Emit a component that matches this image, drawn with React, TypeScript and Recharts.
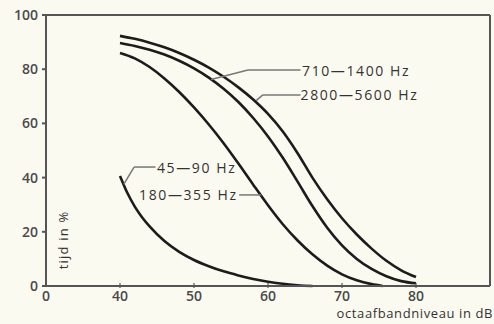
import { Line, LineChart, ReferenceDot, ReferenceLine, XAxis, YAxis } from "recharts";

const levelsWide = [40, 42, 44, 46, 48, 50, 52, 54, 56, 58, 60, 62, 64, 66, 68, 70, 72, 74, 76, 78, 80];
const hz2800 = [92.3, 91.2, 89.8, 88.1, 86.0, 83.5, 80.6, 77.2, 73.3, 68.8, 63.5, 57.0, 49.0, 40.0, 32.0, 25.0, 19.0, 13.8, 9.3, 5.8, 3.3];
const hz710 = [89.7, 88.6, 87.2, 85.4, 83.1, 80.3, 76.9, 72.8, 67.9, 62.0, 55.2, 47.3, 38.5, 29.5, 21.5, 15.0, 10.0, 6.3, 3.6, 1.8, 1.0];

const levels180 = [40, 42, 44, 46, 48, 50, 52, 54, 56, 58, 60, 62, 64, 66, 68, 70, 72, 74, 75.5];
const hz180 = [86, 84, 80.8, 76.6, 71.6, 65.9, 59.6, 52.7, 45.2, 37.4, 29.8, 22.8, 16.8, 11.7, 7.5, 4.3, 2.1, 0.7, 0];

const levels45 = [40, 41, 42, 43, 44, 46, 48, 50, 52, 54, 56, 58, 60, 62, 64, 66];
const hz45 = [40.6, 34.3, 29.3, 25.3, 22.0, 16.6, 12.6, 9.6, 7.3, 5.4, 3.9, 2.6, 1.6, 0.8, 0.3, 0];

const xTicks = [30, 40, 50, 60, 70, 80];
const yTicks = [0, 20, 40, 60, 80, 100];

// leader lines: [x, y] in data units, label anchor first
const leader710: [number, number][] = [[64.4, 79.7], [57.3, 79.7], [52.3, 76.2]];
const leader2800: [number, number][] = [[64.4, 70.5], [59.3, 70.5], [58.4, 68.4]];
const leader45: [number, number][] = [[44.8, 43.9], [41.9, 43.9], [40.5, 37.5]];
const leader180: [number, number][] = [[56.1, 33.6], [59.1, 33.6]];

const toRows = (xs: number[], ys: number[]) => xs.map((x, i) => ({ x, y: ys[i] }));

const INK = "#1c1c1c";
const AXIS = "#555";
const LEAD = "#777";
const FONT = "'Open Sans', sans-serif";

function XTick(props: any) {
  const { x, y, payload } = props;
  const v = payload.value;
  return (
    <g>
      {v !== 30 && <line x1={x} y1={y} x2={x} y2={y - 5} stroke={AXIS} strokeWidth={1.2} />}
      <text x={x} y={y + 13} textAnchor="middle" fontFamily={FONT} fontSize={14} fontWeight={600} fill="#4a4a4a">
        {v === 30 ? "0" : v}
      </text>
    </g>
  );
}

function textLabel(value: string, anchor: "start" | "end" | "middle") {
  return (p: any) => {
    const vb = p.viewBox;
    return (
      <text
        x={vb.x}
        y={vb.y}
        textAnchor={anchor}
        dominantBaseline="central"
        fontFamily={FONT}
        fontSize={14}
        letterSpacing={1.6}
        fill="#333"
      >
        {value}
      </text>
    );
  };
}

function Leader({ pts }: { pts: [number, number][] }) {
  return (
    <>
      {pts.slice(1).map((p, i) => (
        <ReferenceLine
          key={i}
          segment={[
            { x: pts[i][0], y: pts[i][1] },
            { x: p[0], y: p[1] },
          ]}
          stroke={LEAD}
          strokeWidth={1.5}
          ifOverflow="visible"
        />
      ))}
    </>
  );
}

export default function App() {
  return (
    <div style={{ position: "absolute", left: 0, top: 0, width: 494, height: 324, background: "#fbfaf1" }}>
      <LineChart width={494} height={324} margin={{ top: 15, right: 4, left: 0, bottom: 0 }}>
        <XAxis
          dataKey="x"
          type="number"
          domain={[30, 90]}
          ticks={xTicks}
          allowDuplicatedCategory={false}
          height={38}
          stroke={AXIS}
          strokeWidth={2}
          tickLine={false}
          tickSize={0}
          tick={<XTick />}
          label={(p: any) => {
            const vb = p.viewBox;
            return (
              <text
                x={vb.x + vb.width + 3}
                y={vb.y + 27}
                textAnchor="end"
                dominantBaseline="central"
                fontFamily={FONT}
                fontSize={13}
                letterSpacing={0.6}
                fill="#333"
              >
                octaafbandniveau in dB
              </text>
            );
          }}
        />
        <YAxis
          type="number"
          domain={[0, 100]}
          ticks={yTicks}
          width={46}
          stroke={AXIS}
          strokeWidth={2}
          tickSize={4}
          tickMargin={4}
          tick={{ fontFamily: FONT, fontSize: 14, fontWeight: 600, fill: "#4a4a4a" }}
        />
        <ReferenceLine y={100} stroke={AXIS} strokeWidth={2} />
        <ReferenceLine x={90} stroke={AXIS} strokeWidth={2} />

        <Line data={toRows(levelsWide, hz2800)} dataKey="y" type="monotone" stroke={INK} strokeWidth={2.6} dot={false} isAnimationActive={false} />
        <Line data={toRows(levelsWide, hz710)} dataKey="y" type="monotone" stroke={INK} strokeWidth={2.6} dot={false} isAnimationActive={false} />
        <Line data={toRows(levels180, hz180)} dataKey="y" type="monotone" stroke={INK} strokeWidth={2.6} dot={false} isAnimationActive={false} />
        <Line data={toRows(levels45, hz45)} dataKey="y" type="monotone" stroke={INK} strokeWidth={2.6} dot={false} isAnimationActive={false} />

        {Leader({ pts: leader710 })}
        {Leader({ pts: leader2800 })}
        {Leader({ pts: leader45 })}
        {Leader({ pts: leader180 })}

        <ReferenceDot x={64.6} y={79.7} r={0} label={textLabel("710—1400 Hz", "start")} />
        <ReferenceDot x={64.4} y={70.5} r={0} label={textLabel("2800—5600 Hz", "start")} />
        <ReferenceDot x={45.0} y={43.9} r={0} label={textLabel("45—90 Hz", "start")} />
        <ReferenceDot x={55.9} y={33.6} r={0} label={textLabel("180—355 Hz", "end")} />
        <ReferenceDot
          x={32.3}
          y={17}
          r={0}
          label={(p: any) => (
            <text
              x={p.viewBox.x}
              y={p.viewBox.y}
              transform={`rotate(-90 ${p.viewBox.x} ${p.viewBox.y})`}
              textAnchor="middle"
              dominantBaseline="central"
              fontFamily={FONT}
              fontSize={13}
              letterSpacing={1.2}
              fill="#333"
            >
              tijd in %
            </text>
          )}
        />
      </LineChart>
    </div>
  );
}
